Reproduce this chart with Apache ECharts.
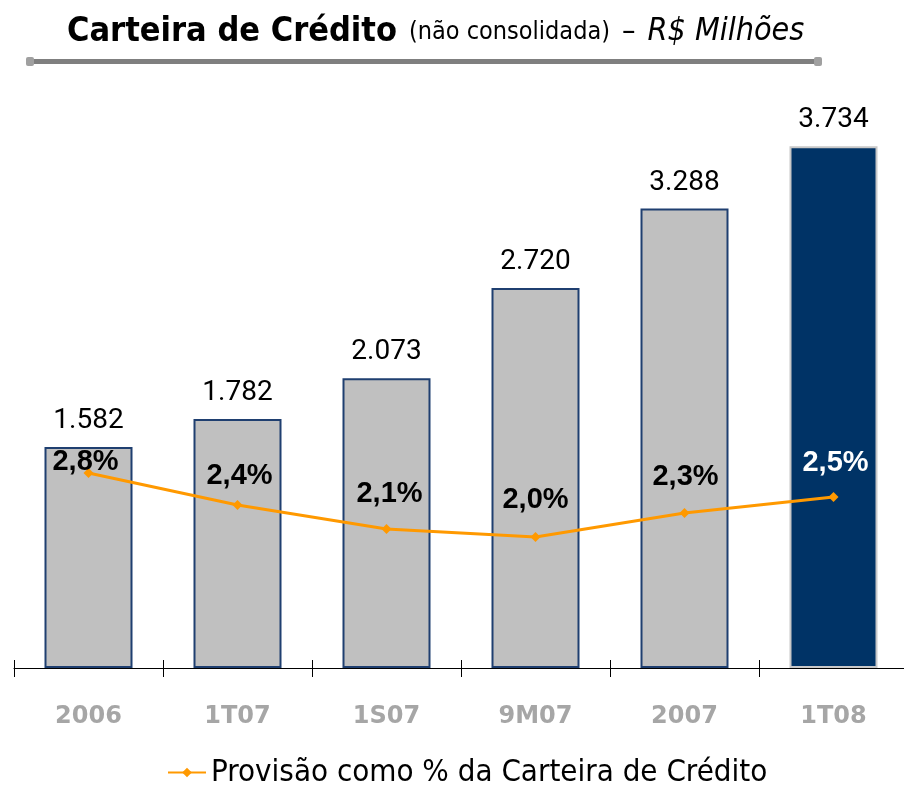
<!DOCTYPE html>
<html>
<head>
<meta charset="utf-8">
<script src="https://cdn.jsdelivr.net/npm/echarts@6/dist/echarts.min.js"></script>
<style>
  html, body { margin: 0; padding: 0; background: #fff; overflow: hidden; }
  #chart { width: 908px; height: 793px; }
</style>
</head>
<body>
<div id="chart"></div>
<script>
const categories = ['2006', '1T07', '1S07', '9M07', '2007', '1T08']
const carteira = [1582, 1782, 2073, 2720, 3288, 3734]
const provisao = [2.8, 2.4, 2.1, 2.0, 2.3, 2.5]

// label nudges for the % labels (dx, dy from the point)
const pctOffsets = [[-3, -11], [2, -29], [3, -35], [0, -37], [1, -36], [2, -34]]

const fmtThousands = v => String(v).replace(/\B(?=(\d{3})+(?!\d))/g, '.')
const fmtPct = v => v.toFixed(1).replace('.', ',') + '%'

const chart = echarts.init(document.getElementById('chart'))

const barData = carteira.map((v, i) => {
  const last = i === carteira.length - 1
  return {
    value: v,
    itemStyle: last
      ? { color: '#003366', borderColor: '#c8c8c8', borderWidth: 2 }
      : { color: '#c0c0c0', borderColor: '#1f3f70', borderWidth: 2 }
  }
})

const lineData = provisao.map((v, i) => ({
  value: v,
  label: {
    offset: pctOffsets[i],
    color: i === provisao.length - 1 ? '#ffffff' : '#000000'
  }
}))

chart.setOption({
  animation: false,
  title: {
    left: 62,
    top: 10,
    text: '{a|Carteira de Crédito}{s| }{b|(não consolidada)}{s| }{c|–}{s| }{d|R$ Milhões}',
    textStyle: {
      rich: {
        a: { fontFamily: 'DejaVu Sans Condensed', fontWeight: 'bold', fontSize: 34, color: '#000' },
        s: { fontFamily: 'DejaVu Sans Condensed', fontSize: 26, width: 12 },
        b: { fontFamily: 'DejaVu Sans Condensed', fontWeight: 'normal', fontSize: 25, color: '#000' },
        c: { fontFamily: 'DejaVu Sans Condensed', fontWeight: 'normal', fontSize: 30, color: '#000' },
        d: { fontFamily: 'DejaVu Sans Condensed', fontWeight: 'normal', fontStyle: 'italic', fontSize: 32, color: '#000' }
      }
    }
  },
  graphic: [
    { type: 'rect', shape: { x: 30, y: 59, width: 790, height: 5 }, style: { fill: '#7f7f7f' } },
    { type: 'rect', shape: { x: 26, y: 57, width: 8, height: 9, r: 2 }, style: { fill: '#a0a0a0' } },
    { type: 'rect', shape: { x: 814, y: 57, width: 8, height: 9, r: 2 }, style: { fill: '#a0a0a0' } }
  ],
  legend: {
    bottom: 0,
    left: 162,
    data: ['Provisão como % da Carteira de Crédito'],
    itemWidth: 38,
    itemHeight: 12,
    itemGap: 6,
    textStyle: { fontFamily: 'DejaVu Sans Condensed', fontSize: 31, color: '#000' }
  },
  grid: { left: 14, top: 109, right: 0, bottom: 125, containLabel: false },
  xAxis: [
    {
      type: 'category',
      data: categories,
      axisLine: { lineStyle: { color: '#000', width: 1 } },
      axisTick: { show: true, length: 9, lineStyle: { color: '#000' } },
      axisLabel: {
        margin: 37,
        fontFamily: 'DejaVu Sans',
        fontWeight: 'bold',
        fontSize: 24,
        color: '#a6a6a6'
      }
    },
    {
      type: 'category',
      data: categories,
      position: 'bottom',
      axisLine: { show: false },
      axisTick: { show: true, inside: true, length: 8, lineStyle: { color: '#000' } },
      axisLabel: { show: false }
    }
  ],
  yAxis: [
    { type: 'value', min: 0, max: 4000, show: false },
    { type: 'value', min: 0.3625, max: 7.35, show: false }
  ],
  series: [
    {
      type: 'bar',
      data: barData,
      barWidth: 88,
      yAxisIndex: 0,
      label: {
        show: true,
        position: 'top',
        distance: 12,
        fontFamily: 'Roboto',
        fontSize: 28,
        color: '#000',
        formatter: p => fmtThousands(p.value)
      }
    },
    {
      name: 'Provisão como % da Carteira de Crédito',
      type: 'line',
      data: lineData,
      yAxisIndex: 1,
      symbol: 'diamond',
      symbolSize: 10,
      lineStyle: { color: '#ff9900', width: 3 },
      itemStyle: { color: '#ff9900' },
      label: {
        show: true,
        position: 'inside',
        fontFamily: 'Liberation Sans',
        fontWeight: 'bold',
        fontSize: 29,
        formatter: p => fmtPct(p.value)
      }
    }
  ]
})
</script>
</body>
</html>
